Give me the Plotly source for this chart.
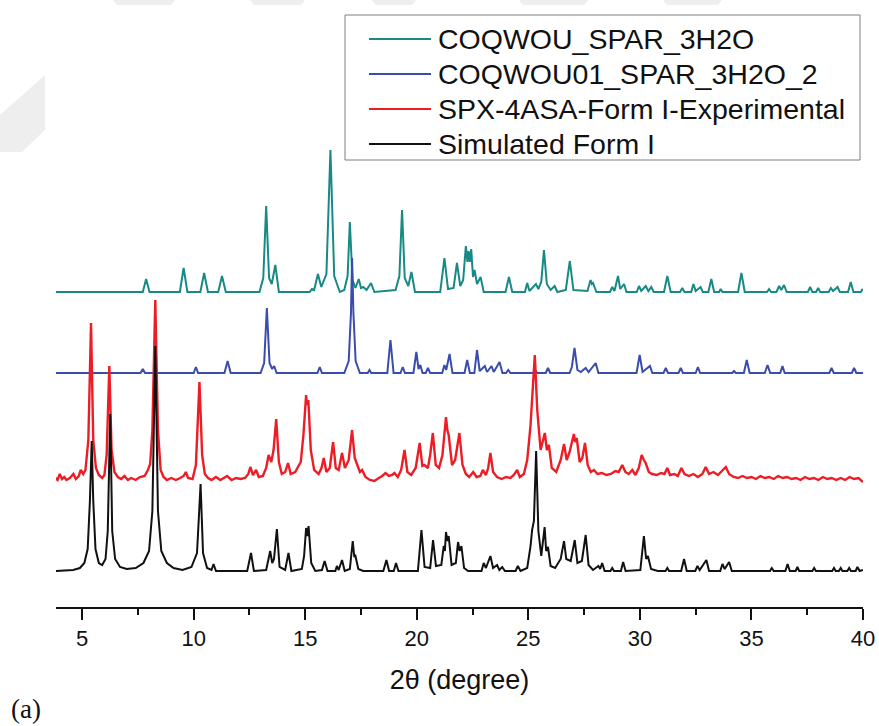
import plotly.graph_objects as go

# ---------------- data (2theta in degree, intensity in arbitrary units) ----------------
series_names = ["COQWOU_SPAR_3H2O", "COQWOU01_SPAR_3H2O_2",
                "SPX-4ASA-Form I-Experimental", "Simulated Form I"]

teal_pattern = [
    (3.8, 0), (7.72, 0), (7.87, 13), (8.02, 0),
    (9.38, 0), (9.55, 24), (9.72, 0),
    (10.3, 0), (10.47, 19), (10.64, 0),
    (11.1, 0), (11.27, 16), (11.44, 0),
    (12.95, 0), (13.12, 14), (13.25, 86), (13.38, 14), (13.5, 8), (13.66, 27), (13.82, 0),
    (15.2, 0), (15.3, 3), (15.4, 2), (15.57, 18), (15.72, 5), (15.95, 18), (16.13, 142), (16.3, 16), (16.55, 0),
    (16.75, 2), (16.9, 16), (17.0, 70), (17.12, 12), (17.25, 4), (17.4, 13), (17.5, 4), (17.6, 5), (17.75, 2), (17.95, 9), (18.1, 0),
    (19.05, 2), (19.22, 16), (19.34, 82), (19.46, 14), (19.62, 6), (19.76, 20), (19.92, 0),
    (21.05, 0), (21.24, 34), (21.4, 3), (21.65, 4), (21.8, 29), (21.95, 6), (22.08, 12), (22.2, 46), (22.27, 30),
    (22.32, 41), (22.38, 30), (22.44, 43), (22.52, 15), (22.59, 22), (22.7, 8), (22.86, 15), (23.0, 0),
    (23.98, 0), (24.13, 15), (24.28, 0),
    (24.85, 0), (24.95, 9), (25.05, 1), (25.34, 8), (25.45, 3), (25.58, 10), (25.7, 42), (25.83, 8), (26.0, 2), (26.18, 6), (26.3, 0),
    (26.68, 2), (26.86, 31), (27.02, 2),
    (27.65, 1), (27.79, 12), (27.85, 8), (27.9, 9), (28.05, 0),
    (28.66, 0), (28.76, 5), (28.86, 1), (29.02, 16), (29.12, 3), (29.29, 8), (29.4, 0),
    (29.86, 0), (29.96, 6), (30.06, 1), (30.26, 6), (30.38, 1), (30.51, 5), (30.62, 0),
    (31.08, 0), (31.23, 16), (31.38, 0),
    (31.8, 0), (31.9, 4), (32.0, 0),
    (32.3, 0), (32.4, 8), (32.5, 1), (32.72, 5), (32.82, 0),
    (33.07, 0), (33.2, 13), (33.33, 0), (33.55, 0), (33.62, 3), (33.7, 0),
    (34.4, 0), (34.55, 19), (34.7, 0),
    (35.7, 0), (35.79, 3), (35.88, 0),
    (36.12, 0), (36.24, 6), (36.34, 2), (36.46, 7), (36.58, 0),
    (37.53, 0), (37.63, 5), (37.73, 0), (37.9, 0), (37.99, 4), (38.08, 0),
    (38.46, 0), (38.56, 4), (38.66, 1), (38.86, 5), (38.96, 0),
    (39.33, 0), (39.45, 10), (39.57, 0), (39.9, 0), (39.98, 3), (40.0, 1),
]

blue_pattern = [
    (3.8, 0), (7.62, 0), (7.72, 4), (7.82, 0),
    (10.0, 0), (10.1, 6), (10.2, 0),
    (11.38, 0), (11.52, 12), (11.66, 0),
    (13.0, 0), (13.16, 10), (13.28, 65), (13.4, 10), (13.52, 4), (13.61, 7), (13.72, 0),
    (15.55, 0), (15.65, 6), (15.75, 0),
    (16.75, 0), (16.95, 12), (17.05, 60), (17.1, 115), (17.16, 60), (17.26, 12), (17.45, 0),
    (17.8, 0), (17.88, 3), (17.96, 0),
    (18.68, 0), (18.82, 33), (18.96, 0),
    (19.27, 0), (19.37, 6), (19.47, 0),
    (19.85, 0), (19.98, 21), (20.08, 4), (20.16, 8), (20.26, 0), (20.4, 0), (20.5, 5), (20.6, 0),
    (21.14, 0), (21.24, 8), (21.32, 3), (21.47, 19), (21.6, 0),
    (22.14, 0), (22.26, 13), (22.38, 0), (22.58, 0), (22.7, 23), (22.82, 2), (23.05, 7), (23.15, 1),
    (23.35, 7), (23.45, 1), (23.71, 11), (23.84, 0),
    (24.0, 0), (24.1, 3), (24.2, 0),
    (25.2, 0), (25.3, 3), (25.4, 0), (25.78, 0), (25.88, 5), (25.98, 0),
    (26.85, 0), (26.95, 6), (27.07, 25), (27.2, 3), (27.35, 1), (27.57, 5), (27.7, 1), (28.02, 10), (28.14, 0),
    (29.85, 0), (29.99, 18), (30.12, 1), (30.45, 7), (30.56, 0),
    (31.06, 0), (31.16, 5), (31.26, 0), (31.73, 0), (31.83, 5), (31.93, 0),
    (32.5, 0), (32.6, 6), (32.7, 0),
    (34.14, 0), (34.22, 2), (34.3, 0), (34.66, 0), (34.79, 13), (34.92, 0),
    (35.6, 0), (35.72, 8), (35.84, 0), (36.29, 0), (36.39, 7), (36.49, 0),
    (38.49, 0), (38.59, 5), (38.69, 0), (39.5, 0), (39.6, 5), (39.7, 0), (40.0, 0),
]

red_pattern = [
    (3.8, 2), (3.9, 0), (4.0, 6), (4.1, 1), (4.2, 3), (4.3, 0), (4.45, 2), (4.61, 6), (4.72, 1), (4.85, 4),
    (4.94, 10), (5.05, 6), (5.15, 10), (5.28, 40), (5.4, 157), (5.5, 40), (5.62, 12), (5.75, 5), (5.9, 2),
    (6.0, 5), (6.1, 25), (6.22, 114), (6.32, 30), (6.45, 8), (6.6, 3), (6.75, 1), (6.9, 4), (7.05, 0),
    (7.2, 2), (7.4, 0), (7.6, 3), (7.8, 4), (7.95, 10), (8.05, 16), (8.15, 50), (8.28, 180), (8.4, 50),
    (8.52, 10), (8.65, 3), (8.8, 0), (9.0, 2), (9.2, 0), (9.4, 2), (9.55, 4), (9.65, 8), (9.75, 2),
    (9.95, 1), (10.1, 15), (10.26, 98), (10.38, 25), (10.5, 6), (10.65, 2), (10.8, 0), (11.0, 3),
    (11.2, 0), (11.5, 4), (11.7, 0), (11.9, 2), (12.1, 1), (12.3, 2), (12.45, 6), (12.54, 13),
    (12.66, 5), (12.8, 10), (12.92, 3), (13.1, 4), (13.25, 12), (13.36, 25), (13.48, 18), (13.58, 30),
    (13.7, 61), (13.82, 18), (13.95, 6), (14.1, 8), (14.23, 17), (14.35, 6), (14.55, 8), (14.8, 18),
    (14.92, 45), (15.04, 85), (15.08, 75), (15.14, 80), (15.25, 30), (15.4, 10), (15.6, 6), (15.73, 12),
    (15.83, 22), (15.95, 8), (16.1, 12), (16.25, 38), (16.37, 12), (16.5, 10), (16.65, 27), (16.78, 12),
    (16.95, 20), (17.1, 50), (17.22, 22), (17.35, 15), (17.45, 8), (17.55, 10), (17.7, 3), (17.9, 0),
    (18.1, -1), (18.3, 2), (18.45, 4), (18.6, 7), (18.75, 4), (18.9, 5), (19.0, 7), (19.15, 3),
    (19.3, 10), (19.45, 30), (19.58, 8), (19.75, 5), (19.95, 12), (20.13, 37), (20.25, 14), (20.34, 15),
    (20.5, 12), (20.6, 25), (20.72, 47), (20.85, 15), (21.0, 12), (21.15, 25), (21.31, 63), (21.37, 50),
    (21.43, 45), (21.58, 15), (21.72, 20), (21.91, 47), (22.05, 15), (22.2, 6), (22.35, 3), (22.53, 8),
    (22.68, 3), (22.85, 4), (22.96, 10), (23.1, 5), (23.2, 12), (23.3, 27), (23.42, 8), (23.6, 3),
    (23.8, 1), (24.0, 3), (24.2, 2), (24.35, 5), (24.5, 10), (24.62, 3), (24.8, 6), (24.95, 20),
    (25.1, 55), (25.29, 125), (25.4, 70), (25.55, 30), (25.65, 40), (25.74, 47), (25.83, 30), (25.92, 35),
    (26.05, 12), (26.25, 8), (26.45, 20), (26.6, 36), (26.72, 20), (26.85, 28), (27.04, 46), (27.1, 38),
    (27.17, 42), (27.3, 18), (27.42, 22), (27.54, 37), (27.66, 15), (27.8, 8), (27.94, 10), (28.1, 6),
    (28.3, 7), (28.5, 5), (28.7, 6), (28.9, 9), (29.05, 8), (29.21, 15), (29.35, 8), (29.5, 6),
    (29.66, 10), (29.8, 5), (29.95, 12), (30.08, 25), (30.18, 20), (30.26, 17), (30.4, 8), (30.55, 6),
    (30.75, 5), (30.95, 7), (31.1, 6), (31.23, 12), (31.35, 5), (31.55, 6), (31.7, 4), (31.86, 12),
    (32.0, 6), (32.2, 4), (32.4, 6), (32.6, 3), (32.8, 6), (32.95, 13), (33.1, 6), (33.3, 8),
    (33.5, 5), (33.7, 9), (33.85, 13), (34.0, 6), (34.2, 3), (34.4, 2), (34.6, 4), (34.8, 2),
    (35.0, 3), (35.2, 1), (35.4, 4), (35.6, 2), (35.8, 3), (36.0, 1), (36.2, 4), (36.4, 2),
    (36.6, 3), (36.8, 1), (37.0, 2), (37.2, 0), (37.4, 3), (37.6, 1), (37.8, 2), (38.0, 0),
    (38.2, 3), (38.4, 1), (38.6, 2), (38.8, 0), (39.0, 2), (39.2, 0), (39.4, 3), (39.6, 1),
    (39.8, 2), (40.0, -2),
]

black_pattern = [
    (3.8, 0), (4.6, 1), (4.9, 3), (5.1, 8), (5.25, 22), (5.35, 70), (5.43, 130), (5.5, 70), (5.6, 22),
    (5.75, 8), (5.9, 6), (6.05, 12), (6.15, 40), (6.26, 157), (6.35, 40), (6.48, 12), (6.7, 4), (7.0, 2),
    (7.4, 3), (7.75, 8), (8.0, 20), (8.15, 60), (8.28, 225), (8.4, 60), (8.55, 20), (8.8, 8), (9.1, 3),
    (9.5, 1), (9.9, 4), (10.15, 18), (10.31, 87), (10.42, 18), (10.6, 3), (10.8, 1), (10.89, 7), (11.0, 0),
    (12.4, 0), (12.57, 18), (12.7, 0), (13.25, 1), (13.43, 20), (13.52, 8), (13.6, 12), (13.73, 42),
    (13.85, 4), (14.1, 1), (14.25, 18), (14.38, 0), (14.85, 2), (14.95, 15), (15.04, 43), (15.1, 35),
    (15.15, 45), (15.27, 8), (15.45, 0), (15.75, 1), (15.87, 10), (16.0, 0), (16.35, 0), (16.42, 5),
    (16.5, 1), (16.65, 11), (16.77, 0), (17.0, 2), (17.13, 30), (17.2, 14), (17.25, 15), (17.38, 2), (17.6, 0),
    (18.5, 0), (18.64, 11), (18.76, 0), (18.97, 0), (19.07, 8), (19.18, 0),
    (20.05, 0), (20.21, 41), (20.35, 4), (20.6, 3), (20.73, 31), (20.86, 5), (21.1, 6), (21.21, 25),
    (21.26, 20), (21.31, 39), (21.37, 30), (21.43, 35), (21.56, 6), (21.75, 8), (21.85, 29), (21.92, 20),
    (22.0, 25), (22.12, 3), (22.3, 0),
    (22.9, 0), (23.0, 8), (23.1, 3), (23.3, 15), (23.42, 3), (23.6, 6), (23.7, 1), (23.83, 4), (23.95, 0),
    (24.43, 0), (24.53, 5), (24.65, 0),
    (24.95, 3), (25.1, 25), (25.17, 41), (25.25, 50), (25.35, 120), (25.45, 40), (25.58, 15), (25.66, 30),
    (25.73, 44), (25.8, 20), (25.88, 24), (26.0, 5), (26.2, 3), (26.45, 12), (26.6, 30), (26.7, 12),
    (26.9, 10), (27.08, 31), (27.2, 8), (27.4, 10), (27.57, 36), (27.7, 6), (27.9, 1), (28.14, 5),
    (28.22, 2), (28.31, 8), (28.42, 0), (28.68, 0), (28.76, 3), (28.84, 0), (29.15, 0), (29.25, 9), (29.36, 0),
    (30.02, 1), (30.18, 35), (30.28, 12), (30.36, 15), (30.5, 2), (30.8, 0), (31.15, 0), (31.23, 3),
    (31.31, 0), (31.85, 0), (31.98, 12), (32.1, 0), (32.48, 0), (32.58, 5), (32.68, 1), (32.98, 11),
    (33.1, 0), (33.6, 0), (33.7, 7), (33.8, 2), (34.0, 9), (34.12, 0),
    (35.83, 0), (35.91, 3), (36.0, 0), (36.52, 0), (36.62, 7), (36.72, 0), (36.98, 0), (37.06, 4),
    (37.14, 0), (37.73, 0), (37.81, 3), (37.89, 0), (38.62, 0), (38.7, 3), (38.78, 0), (38.92, 0),
    (39.0, 3), (39.08, 0), (39.3, 0), (39.38, 3), (39.46, 0), (39.67, 0), (39.75, 4), (39.85, 0), (40.0, 1),
]

x_ticks = [5, 10, 15, 20, 25, 30, 35, 40]

# ---------------- styling / layout ----------------
patterns = [teal_pattern, blue_pattern, red_pattern, black_pattern]
offsets = [315, 234, 127, 36]           # vertical stacking of the patterns
colors = ["#178a86", "#3a4cad", "#ee1c25", "#111111"]
widths = [2, 2, 2.4, 2]

W, H = 879, 726
ML, MR, MT, MB = 56, 16, 130, 119
PW, PH = W - ML - MR, H - MT - MB


def px(x):
    return (x - ML) / PW


def py(y):
    return (H - MB - y) / PH


fig = go.Figure()
for name, pat, off, col, lw in zip(series_names, patterns, offsets, colors, widths):
    fig.add_trace(go.Scatter(
        x=[p[0] for p in pat], y=[p[1] + off for p in pat],
        mode="lines", name=name, line=dict(color=col, width=lw),
        showlegend=False, hoverinfo="x+name",
    ))

shapes = []
annotations = []
# faint watermark shapes in background
shapes.append(dict(type="path", xref="paper", yref="paper", layer="below",
                   path=f"M{px(0)},{py(115)} L{px(45)},{py(75)} L{px(45)},{py(130)} L{px(22)},{py(152)} L{px(0)},{py(152)} Z",
                   fillcolor="#eeeeee", line=dict(width=0)))
for a, b in [(113, 175), (250, 305), (372, 416), (519, 588), (663, 722)]:
    shapes.append(dict(type="path", xref="paper", yref="paper", layer="below",
                       path=f"M{px(a)},{py(0)} L{px(b)},{py(0)} L{px(b - 4)},{py(5)} L{px(a + 4)},{py(5)} Z",
                       fillcolor="#eeeeee", line=dict(width=0)))

# manual legend
shapes.append(dict(type="rect", xref="paper", yref="paper",
                   x0=px(345), x1=px(860), y0=py(160), y1=py(15),
                   line=dict(color="#7f7f7f", width=1), fillcolor="white"))
legend_rows = [39, 74, 109, 144]
for name, col, ry in zip(series_names, colors, legend_rows):
    shapes.append(dict(type="line", xref="paper", yref="paper",
                       x0=px(369), x1=px(431), y0=py(ry), y1=py(ry),
                       line=dict(color=col, width=2)))
    annotations.append(dict(text=name, xref="paper", yref="paper",
                            x=px(436), y=py(ry), xanchor="left", yanchor="middle",
                            showarrow=False,
                            font=dict(family="Liberation Sans, Arial, sans-serif", size=28.5, color="#111111")))

annotations.append(dict(text="(a)", xref="paper", yref="paper", x=px(10), y=py(725),
                        xanchor="left", yanchor="bottom", showarrow=False, borderpad=0,
                        font=dict(family="Liberation Serif, Times New Roman, serif", size=27, color="#111111")))

fig.update_layout(
    autosize=False,
    width=W, height=H,
    margin=dict(l=ML, r=MR, t=MT, b=MB, autoexpand=False),
    paper_bgcolor="white", plot_bgcolor="white",
    shapes=shapes, annotations=annotations,
    xaxis=dict(
        range=[3.83, 40.0], showgrid=False, zeroline=False, automargin=False,
        showline=True, linecolor="#111111", linewidth=2,
        ticks="outside", ticklen=11, tickwidth=2, tickcolor="#111111",
        tickvals=x_ticks, ticktext=[str(t) for t in x_ticks],
        minor=dict(tickvals=[7.5, 12.5, 17.5, 22.5, 27.5, 32.5, 37.5],
                   ticks="outside", ticklen=6, tickwidth=2, tickcolor="#111111"),
        tickfont=dict(family="Liberation Sans, Arial, sans-serif", size=22, color="#111111"),
        title=dict(text="2θ (degree)", standoff=20,
                   font=dict(family="Liberation Sans, Arial, sans-serif", size=27, color="#111111")),
    ),
    yaxis=dict(range=[0, PH], visible=False, showgrid=False, zeroline=False, automargin=False),
)

# remove the browser's default body margin / scrollbars so the figure sits at the page origin
fig.write_html(
    "out.html",
    config={"displayModeBar": False, "responsive": False},
    post_script=("document.documentElement.style.overflow='hidden';"
                 "document.body.style.overflow='hidden';"
                 "document.body.style.margin='0px';"),
)
